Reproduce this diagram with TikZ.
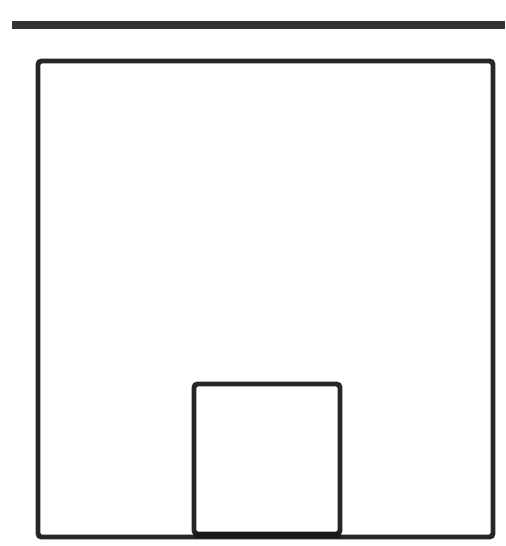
\documentclass[tikz,border=0pt]{standalone}
\usepackage{tikz}
\usetikzlibrary{positioning}

\begin{document}
\begin{tikzpicture}[x=0.02cm, y=-0.02cm]
    \tikzstyle{wall} = [line width=2.8pt, draw=black!85, rounded corners=2pt]
    \tikzstyle{topline} = [line width=4pt, draw=black!80]

    % Rahmen
    \useasboundingbox (0,0) rectangle (505,546);

    % Linien
    \coordinate (lineleft) at (12,25);
    \coordinate (lineright) at (505,25);
    \draw[topline] (lineleft) -- (lineright);

    % Kaesten
    \draw[wall] (38,61) rectangle (493,537);
    \draw[wall] (194,384) rectangle (340,534);
    \draw[line width=3.5pt, black!90] (194,535) -- (340,535);
\end{tikzpicture}
\end{document}
